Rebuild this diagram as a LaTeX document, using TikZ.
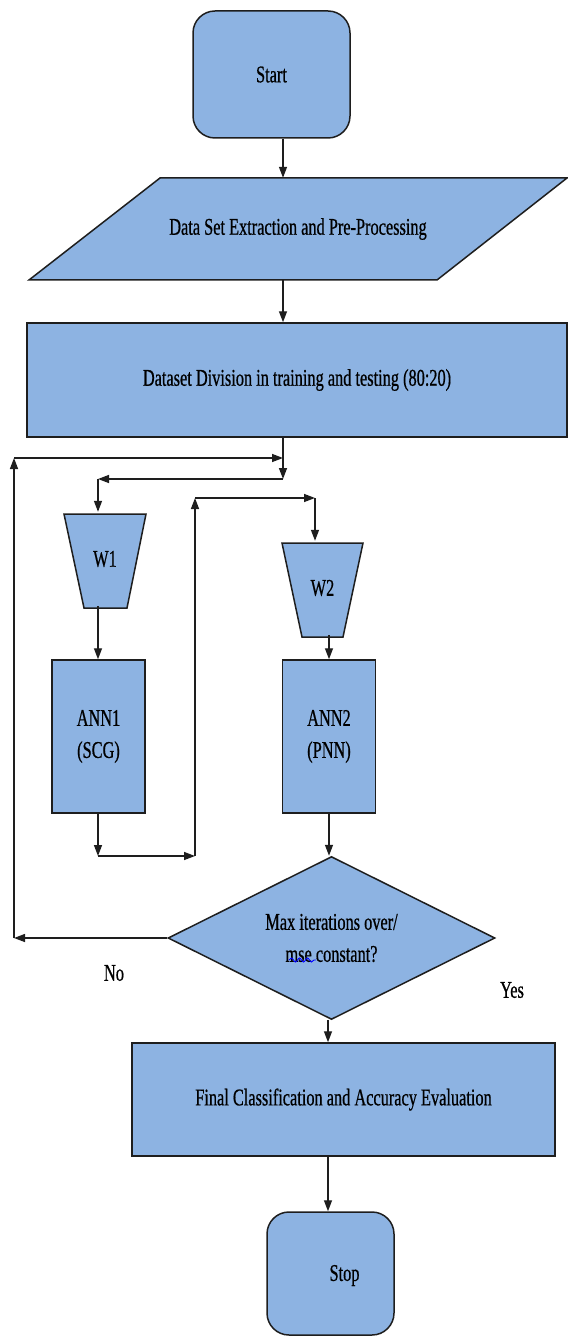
\documentclass[tikz,border=0pt]{standalone}
\usepackage{fontspec}
\setmainfont{Liberation Serif}[FakeStretch=0.68,FakeBold=0.6]
\usetikzlibrary{arrows.meta,shapes.geometric,decorations.pathmorphing}
\definecolor{boxfill}{HTML}{8DB3E2}
\definecolor{edgec}{HTML}{1E1E1E}
\begin{document}
\begin{tikzpicture}[x=1pt,y=-1pt,
  shapeline/.style={draw=edgec, line width=1.5pt, fill=boxfill},
  term/.style={shapeline, rounded corners=22pt, inner sep=0pt},
  procbox/.style={shapeline, inner sep=0pt},
  anchorbox/.style={inner sep=0pt},
  decision/.style={shapeline, diamond, inner sep=0pt, aspect=2},
  txt/.style={font=\fontsize{24}{32}\selectfont, text=black},
  arr/.style={draw=edgec, line width=1.4pt, -{Triangle[length=11pt,width=8pt]}}
]
\useasboundingbox (0,0) rectangle (567,1337);

% shapes drawn as polygons
\path[shapeline] (160,178) -- (567,178) -- (437,280) -- (29,280) -- cycle;
\path[shapeline] (64,514) -- (146,514) -- (127,608) -- (84,608) -- cycle;
\path[shapeline] (282,543) -- (363,543) -- (343,637) -- (302,637) -- cycle;

% nodes
\node[term, txt, minimum width=157, minimum height=127] (start) at (271.5,74.5) {Start};
\node[anchorbox, txt, minimum width=538, minimum height=102] (data) at (298,229) {Data Set Extraction and Pre-Processing};
\node[procbox, txt, minimum width=540, minimum height=114] (div) at (297,380) {Dataset Division in training and testing (80:20)};
\node[anchorbox, txt, minimum width=82, minimum height=94] (w1) at (105,559) {W1};
\node[anchorbox, txt, minimum width=81, minimum height=94] (w2) at (322.5,588) {W2};
\node[procbox, txt, minimum width=93, minimum height=153, align=center] (ann1) at (98.5,736.5) {ANN1\\(SCG)};
\node[procbox, txt, minimum width=93, minimum height=153, align=center] (ann2) at (329,736.5) {ANN2\\(PNN)};
\node[decision, txt, minimum width=327, minimum height=163, align=center] (dec) at (331.5,938) {Max iterations over/\\mse constant?};
\node[procbox, txt, minimum width=423, minimum height=113] (final) at (343.5,1099.5) {Final Classification and Accuracy Evaluation};
\node[term, minimum width=127, minimum height=123] (stop) at (330.5,1273.5) {};
\node[txt] (stoptxt) at ([xshift=14pt,yshift=-2pt]stop.center) {Stop};
\node[txt] (no) at (114,973) {No};
\node[txt] (yes) at (512,990) {Yes};

% spell-check squiggle under "mse"
\draw[blue, line width=0.9pt, decorate, decoration={snake, amplitude=2pt, segment length=8pt}] (289,960) -- (316,960);

% coordinates for connectors
\coordinate (sp) at (283,0);
\coordinate (c2) at (329,0);
\coordinate (j1) at (283,479);
\coordinate (j2) at (98,479);
\coordinate (k1) at (98,856);
\coordinate (k2) at (195,856);
\coordinate (k3) at (195,498);
\coordinate (k4) at (315,498);
\coordinate (l1) at (14,938);
\coordinate (l2) at (14,458);
\coordinate (l3) at (283,458);
\coordinate (c3) at (328,0);

% connectors
\draw[arr] (start.south -| sp) -- (data.north -| sp);
\draw[arr] (data.south -| sp) -- (div.north -| sp);
\draw[arr] (div.south -| sp) -- (j1);
\draw[arr] (j1) -- (j2);
\draw[arr] (j2) -- (w1.north -| j2);
\draw[arr] (w1.south -| j2) -- (ann1.north -| j2);
\draw[arr] (ann1.south -| k1) -- (k1);
\draw[arr] (k1) -- (k2);
\draw[arr] (k2) -- (k3);
\draw[arr] (k3) -- (k4);
\draw[arr] (k4) -- (w2.north -| k4);
\draw[arr] (w2.south -| c2) -- (ann2.north -| c2);
\draw[arr] (ann2.south -| c2) -- (dec.north -| c2);
\draw[arr] (dec.south -| c3) -- (final.north -| c3);
\draw[arr] (final.south -| c3) -- (stop.north -| c3);
\draw[arr] (dec.west) -- (l1);
\draw[arr] (l1) -- (l2);
\draw[arr] (l2) -- (l3);
\end{tikzpicture}
\end{document}
